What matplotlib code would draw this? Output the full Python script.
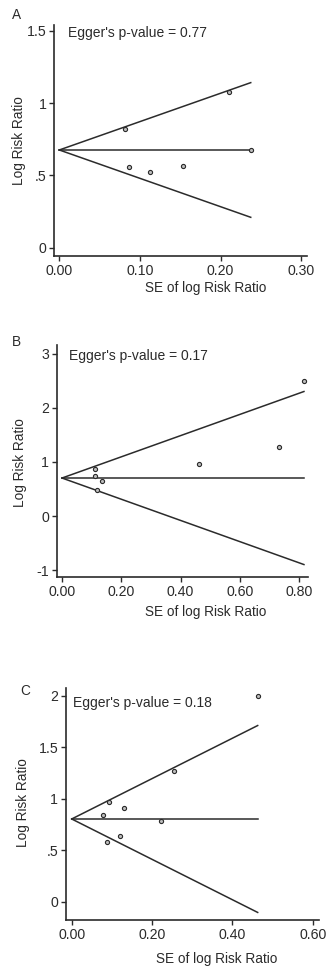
"""Funnel plots for the three meta-analyses (A, B, C)"""

import numpy as np
import matplotlib
matplotlib.use("Agg")
import matplotlib.pyplot as plt

plt.rcParams['font.family'] = ['Liberation Sans', 'DejaVu Sans']

W, H = 332, 973
INK = '#2b2b2b'

# panel A
se_a = [0.082, 0.210, 0.087, 0.113, 0.153, 0.2375]
lrr_a = [0.821, 1.079, 0.556, 0.521, 0.565, 0.676]
theta_a = 0.676
p_a = "0.77"

# panel B
se_b = [0.816, 0.733, 0.463, 0.110, 0.110, 0.135, 0.117]
lrr_b = [2.495, 1.281, 0.961, 0.869, 0.745, 0.653, 0.480]
theta_b = 0.702
p_b = "0.17"

# panel C
se_c = [0.463, 0.255, 0.093, 0.130, 0.077, 0.222, 0.119, 0.089]
lrr_c = [2.00, 1.269, 0.971, 0.907, 0.845, 0.784, 0.641, 0.580]
theta_c = 0.803
p_c = "0.18"

xticks_a = [0.0, 0.1, 0.2, 0.3]
yticks_a = [0, 0.5, 1, 1.5]
xticks_b = [0.0, 0.2, 0.4, 0.6, 0.8]
yticks_b = [-1, 0, 1, 2, 3]
xticks_c = [0.0, 0.2, 0.4, 0.6]
yticks_c = [0, 0.5, 1, 1.5, 2]


def ylab(v):
    if v == int(v):
        return str(int(v))
    s = "%g" % v
    return s[1:] if s.startswith("0.") else s


def funnel(box, se, lrr, theta, pval, xticks, yticks, xlim, ylim, letter,
           letter_xy, egger_xy, ylab_xy, xlab_xy):
    l, t, r, b = box
    ax = fig.add_axes([l / W, 1 - b / H, (r - l) / W, (b - t) / H])
    smax = max(se)
    s = np.array([0, smax])
    ax.plot(s, [theta, theta], color=INK, lw=1.1)
    ax.plot(s, theta + 1.96 * s, color=INK, lw=1.1)
    ax.plot(s, theta - 1.96 * s, color=INK, lw=1.1)
    ax.plot(se, lrr, 'o', ms=3, mfc='#bdbdbd', mec=INK, mew=0.8)
    ax.set_xlim(*xlim)
    ax.set_ylim(*ylim)
    ax.set_xticks(xticks)
    ax.set_xticklabels(["%.2f" % v for v in xticks])
    ax.set_yticks(yticks)
    ax.set_yticklabels([ylab(v) for v in yticks])
    for sp in ['top', 'right']:
        ax.spines[sp].set_visible(False)
    for sp in ['left', 'bottom']:
        ax.spines[sp].set_color(INK)
        ax.spines[sp].set_linewidth(1.2)
    ax.tick_params(length=3.5, width=1.0, color=INK, labelcolor=INK,
                   labelsize=10.2, pad=2)
    fig.text(letter_xy[0] / W, 1 - letter_xy[1] / H, letter, fontsize=9.8,
             color=INK, ha='center', va='center')
    fig.text(egger_xy[0] / W, 1 - egger_xy[1] / H,
             "Egger's p-value = " + pval, fontsize=10, color=INK,
             ha='left', va='center')
    fig.text(ylab_xy[0] / W, 1 - ylab_xy[1] / H, "Log Risk Ratio",
             fontsize=9.8, color=INK, rotation=90, ha='center', va='center')
    fig.text(xlab_xy[0] / W, 1 - xlab_xy[1] / H, "SE of log Risk Ratio",
             fontsize=9.8, color=INK, ha='center', va='center')
    return ax


fig = plt.figure(figsize=(W / 100, H / 100), dpi=100)

funnel((54.3, 25, 307, 256), se_a, lrr_a, theta_a, p_a, xticks_a, yticks_a,
       (-0.0062, 0.3073), (-0.057, 1.540), "A", (16.5, 15), (68, 33),
       (18.8, 141), (206, 288))
funnel((56.7, 345, 308.3, 577.3), se_b, lrr_b, theta_b, p_b, xticks_b,
       yticks_b, (-0.0179, 0.8307), (-1.133, 3.161), "B", (16.5, 342.5),
       (69, 356), (20, 463), (206, 611.7))
funnel((66, 688.3, 319.3, 920), se_c, lrr_c, theta_c, p_c, xticks_c,
       yticks_c, (-0.0142, 0.6164), (-0.178, 2.072), "C", (25, 691),
       (72.7, 702.7), (23, 803), (216.7, 959))

fig.savefig("out.png", dpi=100, facecolor='white')
